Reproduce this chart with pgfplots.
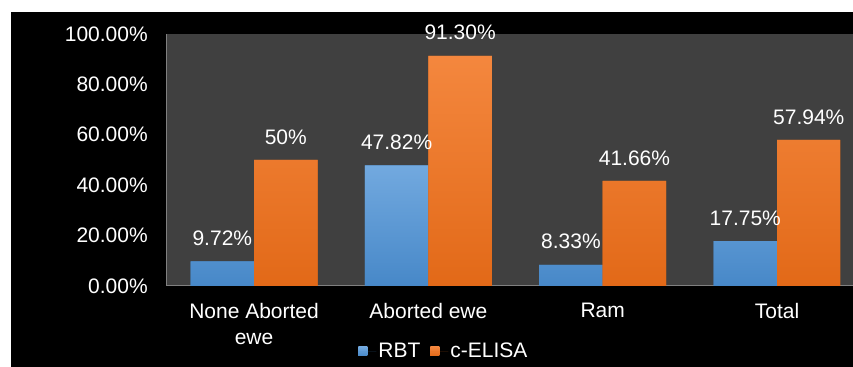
\documentclass[border=0pt]{standalone}
\usepackage{pgfplots}
\usepackage{pgfplotstable}
\pgfplotsset{compat=1.18}
\usepackage{fontspec}
\setmainfont{Liberation Sans}
\definecolor{bgdark}{HTML}{404040}
\definecolor{axisgray}{HTML}{808080}
\definecolor{bluetop}{HTML}{72A9DF}
\definecolor{bluebot}{HTML}{4788C8}
\definecolor{orangetop}{HTML}{F4873E}
\definecolor{orangebot}{HTML}{E26918}
\pgfplotstableread{
x rbt rbtlab elisa elisalab
0 9.72 9.72\% 50 50\%
1 47.82 47.82\% 91.30 91.30\%
2 8.33 8.33\% 41.66 41.66\%
3 17.75 17.75\% 57.94 57.94\%
}\datatable
\begin{document}
\fontsize{21}{26}\selectfont
\begin{tikzpicture}[x=1pt,y=1pt]
\fill[white] (0,0) rectangle (853,367);
\fill[black] (11,0) rectangle (853,355);
\begin{axis}[
  at={(167pt,81pt)}, anchor=south west,
  scale only axis, width=686pt, height=252pt,
  xmin=-0.5, xmax=3.433, ymin=0, ymax=100,
  axis background/.style={fill=bgdark},
  axis x line*=bottom, axis y line*=left,
  axis line style={draw=axisgray, line width=1pt, -},
  ybar=0pt, bar width=63.5pt,
  ytick={0,20,40,60,80,100},
  yticklabel={\pgfmathprintnumber[fixed,fixed zerofill,precision=2,assume math mode=true]{\tick}\%},
  yticklabel style={text=white, xshift=-12pt},
  xtick={0,1,2,3},
  xticklabels={None Aborted\\ewe, Aborted ewe, Ram, Total},
  xticklabel style={align=center, text=white, yshift=-6pt},
  major tick style={draw=none},
  nodes near coords,
  point meta=explicit symbolic,
  nodes near coords style={text=white, anchor=south, yshift=8.5pt},
  legend style={draw=none, fill=none, text=white, at={(0.404,-0.262)}, anchor=center,
    legend columns=2, /tikz/every even column/.append style={column sep=8pt}},
  legend image code/.code={\fill[#1] (0pt,-4pt) rectangle (9pt,5pt); \path (0pt,0pt) -- (18pt,0pt);},
]
\addplot[draw=none, fill=bluebot, top color=bluetop, bottom color=bluebot] table[x=x, y=rbt, meta=rbtlab] {\datatable};
\addplot[draw=none, fill=orangebot, top color=orangetop, bottom color=orangebot] table[x=x, y=elisa, meta=elisalab] {\datatable};
\legend{RBT, c-ELISA}
\end{axis}
\end{tikzpicture}
\end{document}
